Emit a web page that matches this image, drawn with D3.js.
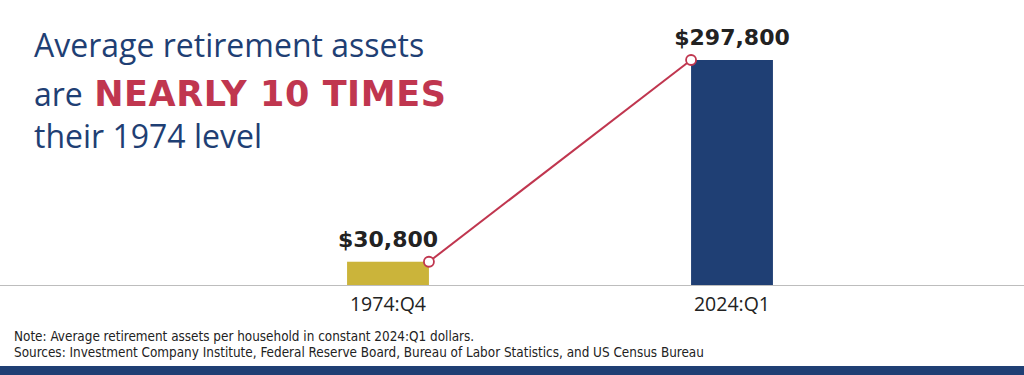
<!DOCTYPE html>
<html>
<head>
<meta charset="utf-8">
<script src="https://cdn.jsdelivr.net/npm/d3@7"></script>
<style>
  body { margin: 0; background: #fff; }
  svg { display: block; }
</style>
</head>
<body>
<div id="chart"></div>
<script>
// Chart data
const categories = ['1974:Q4', '2024:Q1'];
const values = [30800, 297800];
const valueLabels = ['$30,800', '$297,800'];
const titleLines = ['Average retirement assets', 'their 1974 level'];
const notes = [
  'Note: Average retirement assets per household in constant 2024:Q1 dollars.',
  'Sources: Investment Company Institute, Federal Reserve Board, Bureau of Labor Statistics, and US Census Bureau'
];

const width = 1024, height = 375;
const baseY = 285;
const navy = '#1f3f74';
const gold = '#cbb43a';
const red = '#c0364f';
const font = '"Open Sans", sans-serif';
const boldFont = '"DejaVu Sans", sans-serif';

const svg = d3.select('#chart').append('svg')
  .attr('width', width)
  .attr('height', height);

const x = d3.scaleBand()
  .domain(categories)
  .range([216, 904])
  .paddingInner(0.762)
  .paddingOuter(0.381);

const y = d3.scaleLinear()
  .domain([0, d3.max(values)])
  .range([baseY, 60]);

// baseline
svg.append('line')
  .attr('x1', 0).attr('x2', width)
  .attr('y1', baseY + 0.5).attr('y2', baseY + 0.5)
  .attr('stroke', '#bdbdbd')
  .attr('stroke-width', 1);

// bars
svg.selectAll('.bar')
  .data(values)
  .enter().append('rect')
  .attr('class', 'bar')
  .attr('x', (d, i) => x(categories[i]))
  .attr('y', d => y(d))
  .attr('width', x.bandwidth())
  .attr('height', d => baseY - y(d))
  .attr('fill', (d, i) => i === 0 ? gold : navy);

// connecting line: right corner of first bar to left corner of second
const pts = [
  [x(categories[0]) + x.bandwidth(), y(values[0])],
  [x(categories[1]), y(values[1])]
];
svg.append('path')
  .attr('d', d3.line()(pts))
  .attr('stroke', red)
  .attr('stroke-width', 2)
  .attr('fill', 'none');

svg.selectAll('.dot')
  .data(pts)
  .enter().append('circle')
  .attr('cx', d => d[0])
  .attr('cy', d => d[1])
  .attr('r', 5)
  .attr('fill', '#fff')
  .attr('stroke', red)
  .attr('stroke-width', 1.8);

// value labels
svg.selectAll('.val')
  .data(values)
  .enter().append('text')
  .attr('x', (d, i) => x(categories[i]) + x.bandwidth() / 2)
  .attr('y', d => y(d) - 15)
  .attr('text-anchor', 'middle')
  .style('font-family', boldFont)
  .style('font-weight', 700)
  .style('font-size', '22px')
  .style('fill', '#222')
  .text((d, i) => valueLabels[i]);

// category labels
svg.selectAll('.cat')
  .data(categories)
  .enter().append('text')
  .attr('x', d => x(d) + x.bandwidth() / 2)
  .attr('y', 311)
  .attr('text-anchor', 'middle')
  .style('font-family', font)
  .style('font-size', '19.5px')
  .style('fill', '#222')
  .text(d => d);

// title
const title = svg.append('g')
  .style('font-family', font)
  .style('fill', navy);

title.append('text')
  .attr('x', 34).attr('y', 57)
  .style('font-size', '32px')
  .text(titleLines[0]);

const t2 = title.append('text')
  .attr('x', 34).attr('y', 106)
  .style('font-size', '32px');
t2.append('tspan').text('are ');
t2.append('tspan')
  .attr('dx', 3)
  .style('font-family', boldFont)
  .style('font-size', '35px')
  .style('letter-spacing', '0.6px')
  .style('font-weight', 700)
  .style('fill', red)
  .text('NEARLY 10 TIMES');

title.append('text')
  .attr('x', 34).attr('y', 148)
  .style('font-size', '32px')
  .text(titleLines[1]);

// notes
svg.selectAll('.note')
  .data(notes)
  .enter().append('text')
  .attr('x', 14)
  .attr('y', (d, i) => 341 + i * 16)
  .style('font-family', '"Liberation Sans Narrow", "DejaVu Sans Condensed", sans-serif')
  .style('font-size', '13.4px')
  .style('fill', '#222')
  .text(d => d);

// bottom band
svg.append('rect')
  .attr('x', 0).attr('y', 366)
  .attr('width', width).attr('height', height - 366)
  .attr('fill', navy);
</script>
</body>
</html>
